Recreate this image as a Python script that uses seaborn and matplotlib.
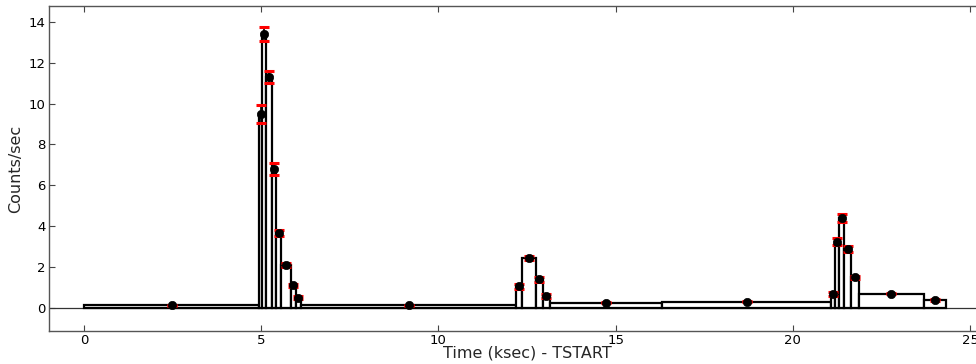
import matplotlib
matplotlib.use("Agg")
import matplotlib.pyplot as plt
import numpy as np
import pandas as pd
import seaborn as sns

# Bayesian-block light curve: block edges (ksec since TSTART), block rates and 1-sigma errors
block_edges = [0.0, 4.94, 5.02, 5.14, 5.31, 5.43, 5.57, 5.83, 5.97, 6.13,
               12.19, 12.36, 12.76, 12.94, 13.15, 16.32, 21.08, 21.20, 21.31,
               21.45, 21.64, 21.86, 23.70, 24.32]
block_rates = [0.12, 9.5, 13.4, 11.3, 6.8, 3.65, 2.1, 1.1, 0.5, 0.12,
               1.05, 2.45, 1.4, 0.6, 0.25, 0.3, 0.7, 3.25, 4.4, 2.9,
               1.5, 0.7, 0.4]
rate_errors = [0.02, 0.44, 0.35, 0.29, 0.28, 0.15, 0.10, 0.08, 0.07, 0.02,
               0.12, 0.08, 0.13, 0.10, 0.02, 0.02, 0.10, 0.15, 0.20, 0.15,
               0.08, 0.03, 0.05]
x_ticks = [0, 5, 10, 15, 20, 25]
y_ticks = [0, 2, 4, 6, 8, 10, 12, 14]

edges = np.asarray(block_edges)
df = pd.DataFrame({
    "left": edges[:-1],
    "width": np.diff(edges),
    "center": 0.5 * (edges[:-1] + edges[1:]),
    "rate": block_rates,
    "err": rate_errors,
})

sns.set_style("ticks")
plt.rcParams["font.family"] = ["DejaVu Sans"]

fig = plt.figure(figsize=(9.76, 3.64), dpi=100)
ax = fig.add_axes([48.6 / 976, 33 / 364, 27 * 35.44 / 976, 325 / 364])

# zero level
ax.axhline(0, color="#333333", lw=0.9, zorder=1)

# blocks as outlined boxes
ax.bar(df["left"], df["rate"], width=df["width"], align="edge",
       facecolor="white", edgecolor="black", linewidth=1.6, zorder=2)

# error bars with red caps
eb = ax.errorbar(df["center"], df["rate"], yerr=df["err"], fmt="none",
                 ecolor="black", elinewidth=1.2, capsize=3.6, capthick=2.2,
                 zorder=3)
for cap in eb[1]:
    cap.set_color("red")
    cap.set_markeredgecolor("red")
    cap.set_markerfacecolor("red")

# block rate markers
sns.scatterplot(data=df, x="center", y="rate", ax=ax, color="black",
                s=36, edgecolor="black", linewidth=0.5, zorder=4, legend=False)

ax.set_xlim(-1, 26)
ax.set_ylim(-1.13, 14.78)
ax.set_xticks(x_ticks)
ax.set_yticks(y_ticks)
ax.tick_params(direction="in", top=True, right=True, length=4, width=0.8,
               labelsize=9.5, colors="#444444", labelcolor="black", pad=2)
for s in ax.spines.values():
    s.set_color("#555555")
    s.set_linewidth(1.0)

ax.set_xlabel("Time (ksec) - TSTART", fontsize=11.5, labelpad=-1)
ax.set_ylabel("Counts/sec", fontsize=11.5, labelpad=4)

fig.savefig("out.png", dpi=100, facecolor="white")
